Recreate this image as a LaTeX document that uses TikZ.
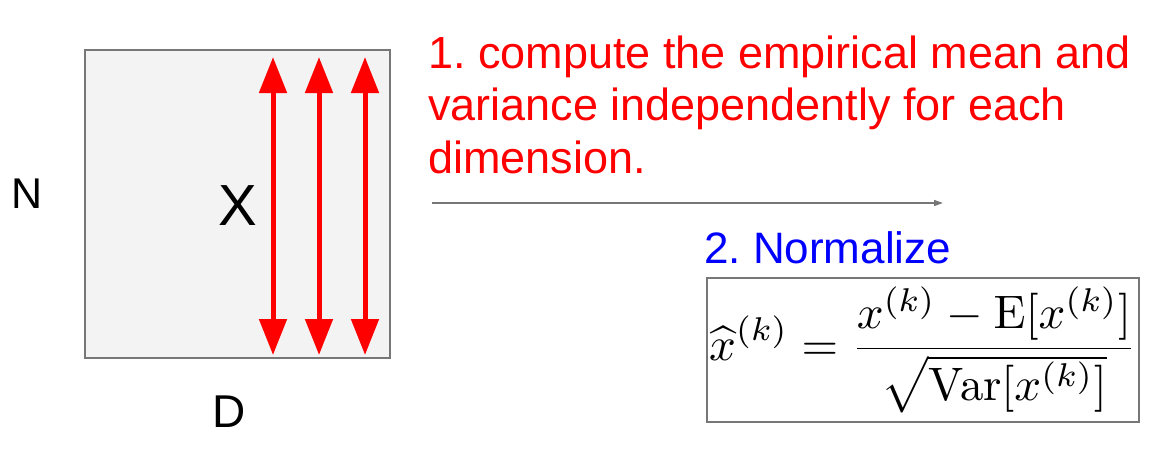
\documentclass[tikz,border=0pt]{standalone}
\usepackage{amsmath}
\usepackage{graphicx}
\usepackage[no-math]{fontspec}
\setmainfont{Liberation Sans}
\usetikzlibrary{arrows.meta, positioning}
\definecolor{boxgray}{HTML}{F3F3F3}
\definecolor{edgegray}{HTML}{777777}
\frenchspacing

\begin{document}
\begin{tikzpicture}[x=1pt, y=-1pt,
	lbl/.style={inner sep=0pt, anchor=base},
	note/.style={inner sep=0pt, anchor=base west},
	colarrow/.style={red, line width=5pt, {Triangle[length=36pt, width=27pt]}-{Triangle[length=36pt, width=27pt]}}]
	
	\useasboundingbox (0,0) rectangle (1156,453);
	
	% data matrix
	\draw[fill=boxgray, draw=edgegray, line width=1.5pt] (85,50) rectangle (390,358);
	\node[lbl, font=\fontsize{58}{60}\selectfont] (x) at (237.5,225) {X};
	\node[lbl, font=\fontsize{43}{50}\selectfont] (n) at (27.5,208) {N};
	\node[lbl, font=\fontsize{46}{50}\selectfont] (d) at (229.5,427) {D};
	
	% one arrow per dimension
	\coordinate (t1) at (273,57);  \coordinate (b1) at (273,355);
	\coordinate (t2) at (319,57);  \coordinate (b2) at (319,355);
	\coordinate (t3) at (365,57);  \coordinate (b3) at (365,355);
	\draw[colarrow] (t1) -- (b1);
	\draw[colarrow] (t2) -- (b2);
	\draw[colarrow] (t3) -- (b3);
	
	% step 1
	\node[note, red, font=\fontsize{45}{50}\selectfont] (s1a) at (428,68) {1. compute the empirical mean and};
	\node[note, red, font=\fontsize{45}{50}\selectfont] (s1b) at (428,120.5) {variance independently for each};
	\node[note, red, font=\fontsize{45}{50}\selectfont] (s1c) at (428,173) {dimension.};
	
	% flow arrow
	\coordinate (fa) at (432,203);
	\coordinate (fb) at (943,203);
	\draw[edgegray, line width=1.5pt, -{Triangle[length=9pt, width=6pt]}] (fa) -- (fb);
	
	% step 2
	\node[note, blue, font=\fontsize{44}{50}\selectfont] (s2) at (704,263) {2. Normalize};
	
	% normalization formula
	\node[draw=edgegray, line width=1.5pt, minimum width=432pt, minimum height=144pt, inner sep=0pt] (formula) at (923,350)
	  {\scalebox{4.7}{$\displaystyle \widehat{x}^{(k)} = \frac{x^{(k)} - \mathrm{E}[x^{(k)}]}{\sqrt{\mathrm{Var}[x^{(k)}]}}$}};
	
\end{tikzpicture}
\end{document}
